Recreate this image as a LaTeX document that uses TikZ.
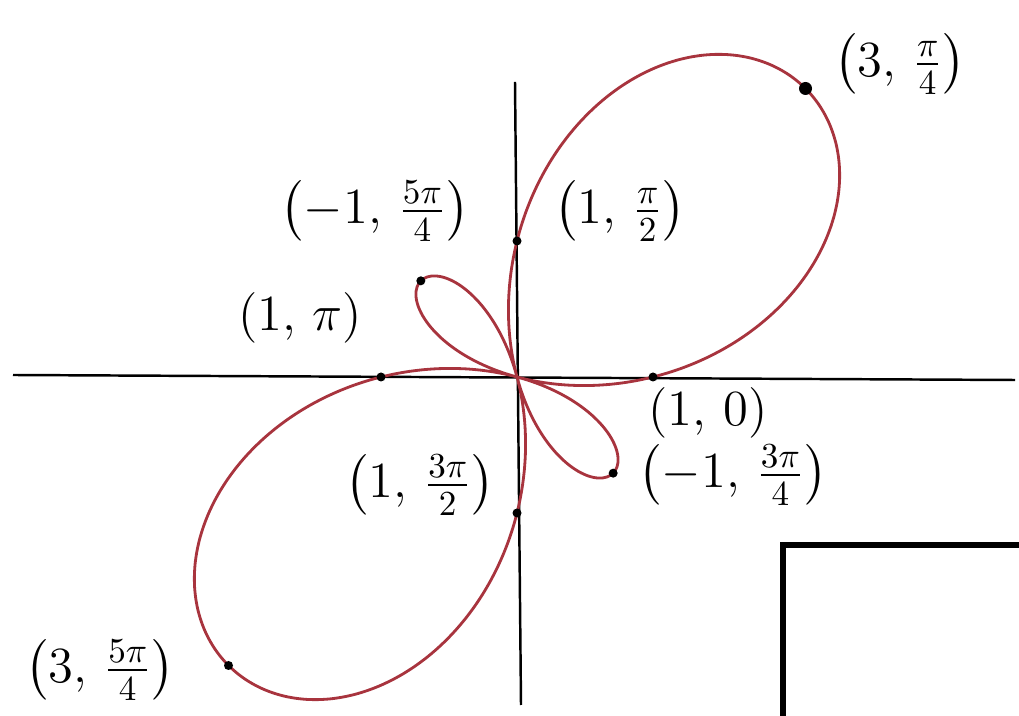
\documentclass[tikz,border=0pt]{standalone}
\usetikzlibrary{positioning}
\usepackage{amsmath}
\usepackage{amssymb}
\definecolor{curvered}{RGB}{168,52,62}

\begin{document}
\begin{tikzpicture}[scale=1.0,
        dot/.style={circle,fill=black,inner sep=0pt,minimum size=0.09cm},
        lbl/.style={font=\Large}]
        \useasboundingbox (0,0) rectangle (10.19,7.16);
        \coordinate (O) at (5.17,3.39);
        \coordinate (xl) at (0.13,3.41);
        \coordinate (xr) at (10.15,3.36);
        \coordinate (yb) at (5.21,0.11);
        \coordinate (yt) at (5.15,6.34);
        \draw[line width=0.7pt] (xl) -- (xr);
        \draw[line width=0.7pt] (yb) -- (yt);
        \begin{scope}[shift={(O)},scale=1.36]
            \draw[curvered,line width=0.8pt] plot[domain=0:360,samples=241,smooth] (\x:{1+2*sin(2*\x)});
            \foreach \n/\a/\r in {p0/0/1, p1/45/3, p2/90/1, p3/135/-1, p4/180/1, p5/225/3, p6/270/1, p7/315/-1} {
                \node[dot] (\n) at (\a:\r) {};
            }
        \end{scope}
        \node[dot,minimum size=0.13cm] at (p1) {};
        \node[lbl] (l0) at (7.08,3.03) {$(1,\,0)$};
        \node[lbl] (l1) at (9.00,6.52) {$\left(3,\,\frac{\pi}{4}\right)$};
        \node[lbl] (l2) at (6.20,5.05) {$\left(1,\,\frac{\pi}{2}\right)$};
        \node[lbl] (l3) at (3.75,5.05) {$\left(-1,\,\frac{5\pi}{4}\right)$};
        \node[lbl] (l4) at (3.00,3.98) {$(1,\,\pi)$};
        \node[lbl] (l5) at (1.00,0.46) {$\left(3,\,\frac{5\pi}{4}\right)$};
        \node[lbl] (l6) at (4.20,2.31) {$\left(1,\,\frac{3\pi}{2}\right)$};
        \node[lbl] (l7) at (7.33,2.41) {$\left(-1,\,\frac{3\pi}{4}\right)$};
        \draw[line width=1.8pt] (7.83,0) -- (7.83,1.71) -- (10.19,1.71);
    \end{tikzpicture}
\end{document}
